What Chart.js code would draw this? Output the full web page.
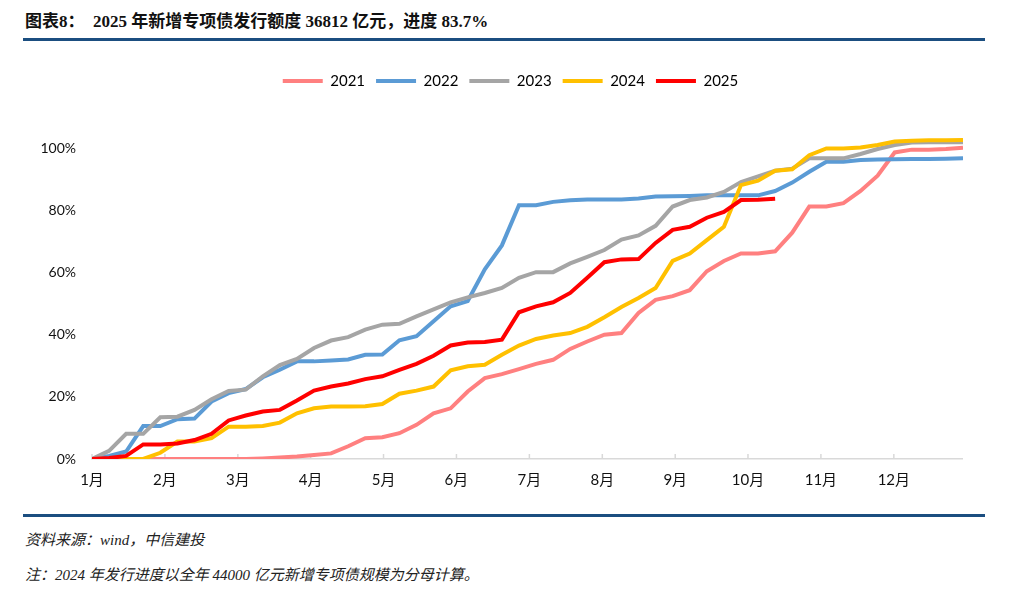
<!DOCTYPE html>
<html>
<head>
<meta charset="utf-8">
<script src="https://cdn.jsdelivr.net/npm/chart.js@4"></script>
<style>
  body { margin: 0; background: #fff; width: 1009px; height: 597px; overflow: hidden; position: relative;
         font-family: 'Liberation Serif', 'Noto Sans CJK SC', serif; }
  .title { position: absolute; left: 25px; top: 7px; font-size: 17px; font-weight: bold; color: #111; white-space: nowrap; }
  .rule { position: absolute; left: 23px; width: 962px; background: #1B4E80; }
  .note { position: absolute; left: 25px; font-size: 15px; font-style: italic; color: #222; white-space: nowrap; }
  #box { position: absolute; left: 30px; top: 56px; width: 933px; height: 440px; }
</style>
</head>
<body>
<div class="title">图表8：&nbsp; 2025 年新增专项债发行额度 36812 亿元，进度 83.7%</div>
<div class="rule" style="top:38px;height:3px;"></div>
<div id="box"><canvas id="chartBox"></canvas></div>
<div class="rule" style="top:514px;height:3px;"></div>
<div class="note" style="top:528px;">资料来源：wind，中信建投</div>
<div class="note" style="top:563px;">注：2024 年发行进度以全年 44000 亿元新增专项债规模为分母计算。</div>

<script>
// cumulative issuance progress (%), one value per week
const years = ['2021', '2022', '2023', '2024', '2025'];
const colors = ['#FF8080', '#5B9BD5', '#A5A5A5', '#FFC000', '#FF0000'];

const p2021 = [0, 0, 0, 0, 0, 0, 0, 0, 0, 0,
  0.2, 0.5, 0.8, 1.3, 1.8, 4.1, 6.7, 7.0, 8.3, 11.0,
  14.7, 16.3, 21.7, 26.0, 27.3, 28.9, 30.6, 31.9, 35.4, 37.8,
  40.0, 40.5, 47.0, 51.2, 52.4, 54.3, 60.4, 63.7, 66.1, 66.1,
  66.8, 72.8, 81.2, 81.2, 82.3, 86.2, 91.1, 98.6, 99.5, 99.5,
  99.7, 100.1];
const p2022 = [0, 1.0, 2.4, 10.6, 10.6, 12.8, 13.0, 18.5, 21.2, 22.5,
  26.3, 28.7, 31.4, 31.4, 31.7, 32.0, 33.5, 33.6, 38.2, 39.5,
  44.3, 49.1, 50.8, 61.0, 68.7, 81.6, 81.6, 82.7, 83.2, 83.5,
  83.5, 83.5, 83.8, 84.4, 84.5, 84.6, 84.8, 84.8, 84.8, 84.8,
  86.2, 88.9, 92.4, 95.6, 95.6, 96.2, 96.3, 96.4, 96.5, 96.5,
  96.6, 96.7];
const p2023 = [0, 2.6, 8.1, 8.1, 13.4, 13.6, 15.8, 19.2, 21.9, 22.3,
  26.6, 30.2, 32.2, 35.7, 38.1, 39.2, 41.6, 43.2, 43.5, 45.9,
  48.1, 50.4, 52.0, 53.4, 55.0, 58.3, 60.1, 60.1, 62.9, 65.0,
  67.2, 70.6, 71.9, 75.0, 81.2, 83.3, 84.1, 85.9, 89.1, 90.9,
  92.7, 93.4, 96.7, 96.7, 96.7, 98.1, 99.7, 101.0, 101.8, 101.9,
  101.9, 101.9];
const p2024 = [0, 0, 0, 0, 2.0, 5.6, 5.6, 6.7, 10.4, 10.4,
  10.6, 11.7, 14.7, 16.3, 16.9, 16.9, 17.0, 17.7, 21.0, 22.0,
  23.3, 28.5, 29.8, 30.3, 33.5, 36.5, 38.6, 39.7, 40.5, 42.5,
  45.6, 48.9, 51.8, 55.0, 63.7, 66.1, 70.4, 74.7, 88.1, 89.5,
  92.7, 93.2, 97.7, 99.9, 99.9, 100.2, 101.0, 102.1, 102.4, 102.5,
  102.5, 102.6];
const p2025 = [0, 0.3, 1.0, 4.7, 4.7, 5.0, 6.1, 8.1, 12.4, 14.0,
  15.3, 15.8, 18.8, 22.0, 23.3, 24.3, 25.7, 26.6, 28.7, 30.6,
  33.2, 36.5, 37.5, 37.6, 38.4, 47.2, 49.1, 50.4, 53.4, 58.3,
  63.3, 64.2, 64.3, 69.5, 73.7, 74.7, 77.6, 79.5, 83.3, 83.4,
  83.7];

// month tick positions on the week axis, and their labels
const monthLabels = ['1月', '2月', '3月', '4月', '5月', '6月', '7月', '8月', '9月', '10月', '11月', '12月'];
const monthPos = [0, 4.27, 8.54, 12.8, 17.07, 21.34, 25.61, 29.88, 34.15, 38.41, 42.68, 46.95];
const yTicks = [0, 20, 40, 60, 80, 100];

const series = [p2021, p2022, p2023, p2024, p2025];
const tickFont = "Lato, 'Noto Sans CJK SC', sans-serif";

// extra room under the legend, and nudge it to the right to centre it like the original
const legendSpace = {
  id: 'legendSpace',
  beforeInit(chart) {
    const fit = chart.legend.fit;
    chart.legend.fit = function () {
      fit.bind(chart.legend)();
      this.height += 18.5;
    };
  },
  afterLayout(chart) {
    chart.legend.left += 14;
    chart.legend.right += 14;
  }
};

const innerTicks = {
  id: 'innerTicks',
  beforeDatasetsDraw(chart) {
    const { ctx, chartArea, scales: { x } } = chart;
    ctx.save();
    ctx.strokeStyle = '#D9D9D9';
    ctx.lineWidth = 1.5;
    monthPos.forEach(v => {
      const px = x.getPixelForValue(v);
      ctx.beginPath();
      ctx.moveTo(px, chartArea.bottom);
      ctx.lineTo(px, chartArea.bottom - 5);
      ctx.stroke();
    });
    ctx.restore();
  }
};

const chartBox = document.querySelector('#chartBox').getContext('2d');

new Chart(chartBox, {
  type: 'line',
  data: {
    datasets: series.map((vals, k) => ({
      label: years[k],
      data: vals.map((v, i) => ({ x: i, y: v })),
      borderColor: colors[k],
      backgroundColor: colors[k],
      borderWidth: 4,
      pointRadius: 0,
      tension: 0,
      order: series.length - k
    }))
  },
  options: {
    responsive: true,
    maintainAspectRatio: false,
    animation: false,
    layout: { padding: { top: 6.5, left: 0, right: 0, bottom: 0 } },
    plugins: {
      legend: {
        position: 'top',
        labels: {
          boxWidth: 40,
          boxHeight: 4,
          padding: 11,
          color: '#111',
          font: { family: tickFont, size: 15 },
          sort: (a, b) => a.datasetIndex - b.datasetIndex,
          generateLabels(chart) {
            return chart.data.datasets.map((ds, i) => ({
              text: ds.label,
              fillStyle: ds.borderColor,
              strokeStyle: ds.borderColor,
              lineWidth: 0,
              datasetIndex: i
            }));
          }
        }
      },
      tooltip: { enabled: false }
    },
    scales: {
      x: {
        type: 'linear',
        min: 0,
        max: 51,
        grid: { display: false, drawTicks: false },
        border: { display: true, color: '#D9D9D9', width: 1.5 },
        afterBuildTicks(scale) {
          scale.ticks = monthPos.map(v => ({ value: v }));
        },
        afterFit(scale) { scale.height = 37; },
        ticks: {
          autoSkip: false,
          maxRotation: 0,
          padding: 12,
          color: '#111',
          font: { family: tickFont, size: 15 },
          callback: (v, idx) => monthLabels[idx]
        }
      },
      y: {
        min: 0,
        max: 110,
        grid: { display: false, drawTicks: false },
        border: { display: false },
        afterBuildTicks(scale) {
          scale.ticks = yTicks.map(v => ({ value: v }));
        },
        afterFit(scale) { scale.width = 62; },
        ticks: {
          padding: 16,
          color: '#111',
          font: { family: tickFont, size: 14 },
          callback: v => v + '%'
        }
      }
    }
  },
  plugins: [legendSpace, innerTicks]
});
</script>
</body>
</html>
